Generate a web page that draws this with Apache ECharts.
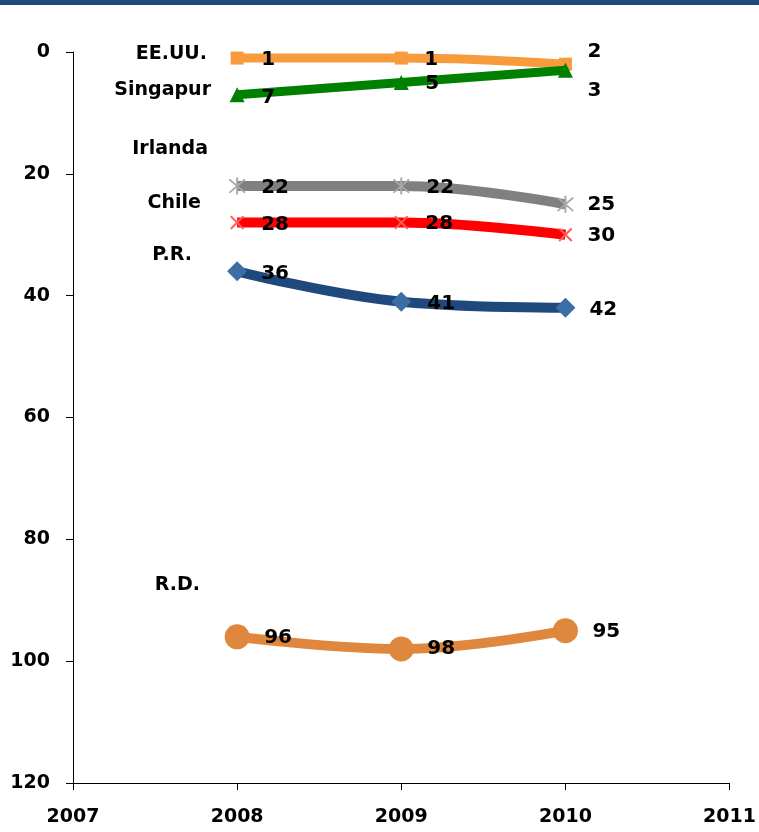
<!DOCTYPE html>
<html><head><meta charset="utf-8">
<script src="https://cdn.jsdelivr.net/npm/echarts@6/dist/echarts.min.js"></script>
<style>html,body{margin:0;padding:0;background:#fff}#c{width:759px;height:832px}</style>
</head><body><div id="c"></div>
<script>
// ---- data ----
const years = [2008, 2009, 2010];
const countries = ['EE.UU.', 'Singapur', 'Irlanda', 'Chile', 'P.R.', 'R.D.'];
const eeuu = [1, 1, 2];
const singapur = [7, 5, 3];
const irlanda = [22, 22, 25];
const chile = [28, 28, 30];
const pr = [36, 41, 42];
const rd = [96, 98, 95];
const xMin = 2007, xMax = 2011;
const yTicks = [0, 20, 40, 60, 80, 100, 120];

// ---- styling ----
const FONT = 'DejaVu Sans';
const asterisk = 'path://M9,0 L11,0 L11,20 L9,20 Z M1.4,2.8 L2.8,1.4 L18.6,17.2 L17.2,18.6 Z M17.2,1.4 L18.6,2.8 L2.8,18.6 L1.4,17.2 Z';
const xmark = 'path://M2,0 L10,8 L18,0 L20,2 L12,10 L20,18 L18,20 L10,12 L2,20 L0,18 L8,10 L0,2 Z';

const styles = [
  {line:'#F89B3C', mark:'#F89B3C', symbol:'rect', size:13, width:9, offs:[[24,2],[23,2],[22,-12]]},
  {line:'#008000', mark:'#008000', symbol:'triangle', size:15, width:9, offs:[[24,3],[24,1],[22,21]]},
  {line:'#808080', mark:'#A8A8A8', symbol:asterisk, size:17, width:10, offs:[[24,2],[25,2],[22,1]]},
  {line:'#FF0000', mark:'#FF5A5A', symbol:xmark, size:14, width:10, offs:[[24,2],[24,1],[22,1]]},
  {line:'#1F497D', mark:'#3A6EA5', symbol:'diamond', size:20, width:10, offs:[[24,2],[26,2],[24,2]]},
  {line:'#DF873D', mark:'#DF873D', symbol:'circle', size:25, width:10, offs:[[27,1],[26,0],[27,1]]}
];
const values = [eeuu, singapur, irlanda, chile, pr, rd];

// country name annotations (pixel layout: right edge x, center y)
const namePos = [[207,54],[211,90],[208,149],[201,203],[192,255],[200,585]];

const series = values.map((vals, si) => {
  const st = styles[si];
  return {
    name: countries[si],
    type: 'line',
    smooth: 0.4,
    symbol: st.symbol,
    symbolSize: st.size,
    showAllSymbol: true,
    lineStyle: {color: st.line, width: st.width},
    itemStyle: {color: st.mark},
    label: {
      show: true, position: 'inside', align: 'left', verticalAlign: 'middle',
      color: '#000', fontFamily: FONT, fontWeight: 'bold', fontSize: 20,
      formatter: p => p.value[1]
    },
    emphasis: {disabled: true},
    data: years.map((y, i) => ({
      value: [y, vals[i]],
      label: {offset: st.offs[i]}
    })),
    z: 2 + si
  };
});

const chart = echarts.init(document.getElementById('c'), null, {renderer: 'canvas'});
chart.setOption({
  animation: false,
  backgroundColor: '#fff',
  grid: {left: 73, right: 28, top: 52, bottom: 49, containLabel: false},
  xAxis: {
    type: 'value', min: xMin, max: xMax, interval: 1,
    axisLine: {show: true, onZero: false, lineStyle: {color: '#000', width: 1}},
    axisTick: {show: true, length: 7, inside: false, lineStyle: {color: '#000'}},
    splitLine: {show: false},
    axisLabel: {color: '#000', fontFamily: FONT, fontWeight: 'bold', fontSize: 19, margin: 25,
      formatter: v => String(v)}
  },
  yAxis: {
    type: 'value', inverse: true, min: yTicks[0], max: yTicks[yTicks.length - 1], interval: 20,
    axisLine: {show: true, onZero: false, lineStyle: {color: '#000', width: 1}},
    axisTick: {show: true, length: 7, lineStyle: {color: '#000'}},
    splitLine: {show: false},
    axisLabel: {color: '#000', fontFamily: FONT, fontWeight: 'bold', fontSize: 19, margin: 23}
  },
  graphic: [
    {type: 'rect', left: 0, top: 0, shape: {width: 759, height: 5}, style: {fill: '#1F497D'}, z: 10}
  ].concat(countries.map((c, i) => ({
    type: 'text', x: namePos[i][0], y: namePos[i][1], z: 10,
    style: {text: c, fill: '#000', font: 'bold 19px "DejaVu Sans"', textAlign: 'right', textVerticalAlign: 'middle'}
  }))),
  series: series
});
</script>
</body></html>
